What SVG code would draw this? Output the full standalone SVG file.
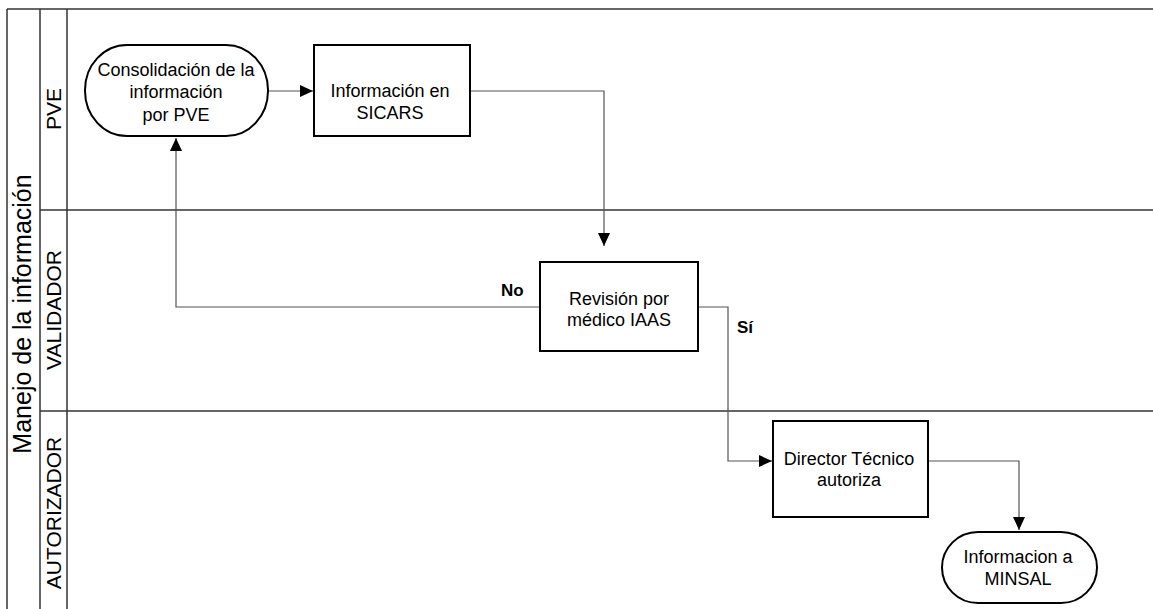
<svg xmlns="http://www.w3.org/2000/svg" width="1153" height="609" viewBox="0 0 1153 609">
<defs>
<style>
.lane{stroke:#333;stroke-width:1.5;fill:none}
.node{fill:#fff;stroke:#000;stroke-width:2}
.conn{stroke:#555;stroke-width:1.2;fill:none}
.t{font-family:"Liberation Sans",Arial,sans-serif;font-size:18px;fill:#000;text-anchor:middle}
.lbl{font-family:"Liberation Sans",Arial,sans-serif;font-size:21px;fill:#000;text-anchor:middle}
.title{font-family:"Liberation Sans",Arial,sans-serif;font-size:25px;fill:#000;text-anchor:middle}
.b{font-family:"Liberation Sans",Arial,sans-serif;font-size:17px;font-weight:bold;fill:#000}
</style>
<marker id="ah" markerWidth="13" markerHeight="12" refX="13" refY="6" orient="auto" markerUnits="userSpaceOnUse">
<path d="M0,0 L13,6 L0,12 Z" fill="#000"/>
</marker>
</defs>
<rect width="1153" height="609" fill="#fff"/>
<g id="pool">
<line class="lane" x1="7" y1="9" x2="1153" y2="9"/>
<line class="lane" x1="7" y1="9" x2="7" y2="609"/>
<line class="lane" x1="40" y1="9" x2="40" y2="609"/>
<line class="lane" x1="67" y1="9" x2="67" y2="609"/>
<line class="lane" x1="40" y1="210" x2="1153" y2="210"/>
<line class="lane" x1="40" y1="411" x2="1153" y2="411"/>
<text class="title" transform="translate(31,314) rotate(-90)">Manejo de la información</text>
<text class="lbl" transform="translate(61,109) rotate(-90)">PVE</text>
<text class="lbl" transform="translate(61,310) rotate(-90)">VALIDADOR</text>
<text class="lbl" transform="translate(61,513) rotate(-90)">AUTORIZADOR</text>
</g>
<g id="connectors">
<polyline class="conn" points="268,91 313,91" marker-end="url(#ah)"/>
<polyline class="conn" points="470,91 604,91 604,246" marker-end="url(#ah)"/>
<polyline class="conn" points="540,307 176,307 176,138" marker-end="url(#ah)"/>
<polyline class="conn" points="698,307 728,307 728,461 772,461" marker-end="url(#ah)"/>
<polyline class="conn" points="928,461 1019,461 1019,530" marker-end="url(#ah)"/>
<text class="b" x="501" y="296">No</text>
<text class="b" x="737" y="333">Sí</text>
</g>
<g id="n1">
<rect class="node" x="85" y="45" width="183" height="91" rx="42" ry="45"/>
<text class="t" x="176" y="76">Consolidación de la</text>
<text class="t" x="176" y="98">información</text>
<text class="t" x="176" y="121">por PVE</text>
</g>
<g id="n2">
<rect class="node" x="314" y="45" width="156" height="91"/>
<text class="t" x="390" y="97">Información en</text>
<text class="t" x="390" y="119">SICARS</text>
</g>
<g id="n3">
<rect class="node" x="540" y="262" width="158" height="89"/>
<text class="t" x="619" y="305">Revisión por</text>
<text class="t" x="619" y="326">médico IAAS</text>
</g>
<g id="n4">
<rect class="node" x="773" y="421" width="155" height="96"/>
<text class="t" x="849" y="465">Director Técnico</text>
<text class="t" x="849" y="486">autoriza</text>
</g>
<g id="n5">
<rect class="node" x="942" y="532" width="155" height="71" rx="36" ry="35.5"/>
<text class="t" x="1018" y="563">Informacion a</text>
<text class="t" x="1018" y="585">MINSAL</text>
</g>
</svg>
